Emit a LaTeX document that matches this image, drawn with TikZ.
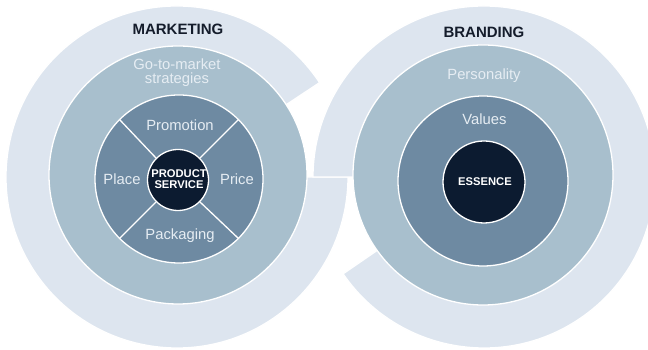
\documentclass[tikz,border=0pt]{standalone}
\usepackage{fontspec}
\setmainfont{Liberation Sans}
\definecolor{ringlight}{HTML}{DDE5EF}
\definecolor{ringmid}{HTML}{A8BFCD}
\definecolor{ringdark}{HTML}{6E8AA2}
\definecolor{corenavy}{HTML}{0C1B30}
\definecolor{titlecol}{HTML}{141C2B}
\definecolor{softtext}{HTML}{E6EDF3}
\begin{document}
\begin{tikzpicture}[x=1pt,y=1pt,
  outerring/.style={fill=ringlight, draw=white, line width=1.3pt},
  disc/.style={circle, draw=white, line width=1.3pt, inner sep=0pt, minimum size=#1},
  midd/.style={disc=#1, fill=ringmid},
  darkd/.style={disc=#1, fill=ringdark},
  cored/.style={disc=#1, fill=corenavy},
  divider/.style={draw=white, line width=1.3pt},
  titletext/.style={text=titlecol, font=\fontsize{15}{17}\selectfont\bfseries, inner sep=0pt},
  ringtext/.style={text=softtext, font=\fontsize{14.8}{16}\selectfont, inner sep=0pt, align=center},
  coretext/.style={text=white, font=\fontsize{11.2}{14}\selectfont\bfseries, inner sep=0pt, align=center}
]
\useasboundingbox (0,0) rectangle (648,350);
\clip (0,0) rectangle (648,350);

% outer C-shaped rings
\coordinate (lc) at (177,173);
\coordinate (rc) at (484,173);
\filldraw[outerring] (lc) -- ++(33.5:171) arc[start angle=33.5, end angle=360, radius=171] -- cycle;
\filldraw[outerring] (rc) -- ++(214.5:171) arc[start angle=214.5, end angle=540, radius=171] -- cycle;

% left: marketing
\node[midd=258] (lmid) at (178,175) {};
\node[darkd=168] (linner) at (179,171) {};
\node[cored=61] (prod) at (178,170) {};
\draw[divider] (prod.45) -- (linner.45);
\draw[divider] (prod.135) -- (linner.135);
\draw[divider] (prod.225) -- (linner.225);
\draw[divider] (prod.315) -- (linner.315);

% right: branding
\node[midd=260] (rmid) at (483,175) {};
\node[darkd=170] (rinner) at (483,169) {};
\node[cored=82] (ess) at (484,168) {};

% texts
\node[titletext] (tmark) at (178,321) {MARKETING};
\node[titletext] (tbrand) at (484,318) {BRANDING};
\node[ringtext] (tgo) at (177,277) {Go-to-market\\[-2.2pt]strategies};
\node[ringtext] (tprom) at (180,225) {Promotion};
\node[ringtext] (tplace) at (122,171) {Place};
\node[ringtext] (tprice) at (237,171) {Price};
\node[ringtext] (tpack) at (180,114) {Packaging};
\node[coretext] (tprod) at (179,171) {PRODUCT\\[-2.6pt]SERVICE};
\node[ringtext] (tpers) at (484,274) {Personality};
\node[ringtext] (tval) at (484.5,231) {Values};
\node[coretext] (tess) at (485,168) {ESSENCE};
\end{tikzpicture}
\end{document}
